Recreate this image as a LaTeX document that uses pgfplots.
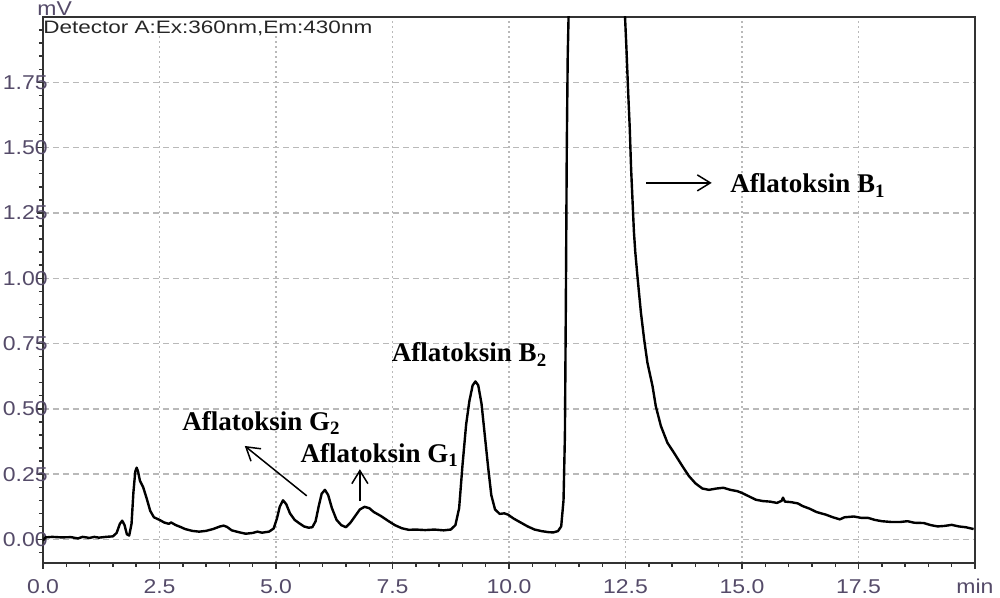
\documentclass[border=0pt]{standalone}
\usepackage{fontspec}
\setmainfont{Liberation Sans}[FakeStretch=1.15]
\newfontfamily\annfont{Liberation Serif}
\newfontfamily\detfont{Liberation Sans}[FakeStretch=1.25]
\usepackage{pgfplots}
\pgfplotsset{compat=1.18}
\usetikzlibrary{arrows.meta}
\definecolor{ticklab}{RGB}{85,75,105}
\definecolor{gridc}{RGB}{185,185,185}
\definecolor{framec}{RGB}{50,50,50}

\pgfplotstableread{
x y
0.00 -0.005
0.05 0.008
0.20 0.010
0.40 0.008
0.60 0.009
0.75 0.004
0.85 0.010
1.00 0.006
1.10 0.010
1.20 0.007
1.35 0.010
1.50 0.012
1.58 0.025
1.65 0.060
1.70 0.072
1.75 0.055
1.80 0.020
1.85 0.015
1.90 0.060
1.94 0.180
1.98 0.260
2.01 0.275
2.04 0.260
2.08 0.225
2.15 0.200
2.22 0.160
2.30 0.110
2.38 0.085
2.50 0.075
2.60 0.065
2.70 0.060
2.75 0.065
2.85 0.055
2.95 0.048
3.05 0.040
3.20 0.033
3.35 0.030
3.50 0.033
3.65 0.040
3.80 0.050
3.88 0.053
3.95 0.048
4.05 0.035
4.20 0.028
4.35 0.022
4.50 0.025
4.60 0.030
4.70 0.026
4.85 0.030
4.95 0.042
5.02 0.080
5.08 0.125
5.15 0.150
5.22 0.135
5.30 0.100
5.40 0.075
5.50 0.062
5.60 0.050
5.70 0.045
5.78 0.047
5.85 0.070
5.92 0.130
5.98 0.175
6.05 0.190
6.12 0.170
6.20 0.120
6.30 0.075
6.40 0.055
6.50 0.047
6.60 0.065
6.70 0.090
6.80 0.115
6.90 0.125
7.00 0.120
7.10 0.105
7.25 0.090
7.40 0.072
7.55 0.055
7.70 0.043
7.85 0.037
8.00 0.038
8.20 0.036
8.40 0.038
8.60 0.035
8.75 0.038
8.85 0.055
8.93 0.120
9.00 0.280
9.08 0.440
9.15 0.530
9.22 0.590
9.28 0.605
9.34 0.590
9.41 0.520
9.48 0.400
9.55 0.280
9.62 0.170
9.70 0.115
9.80 0.098
9.90 0.100
9.98 0.095
10.10 0.080
10.25 0.065
10.40 0.050
10.55 0.038
10.70 0.032
10.85 0.028
10.95 0.027
11.05 0.032
11.12 0.050
11.17 0.150
11.20 0.400
11.22 0.900
11.24 1.500
11.26 1.850
11.29 2.100
11.40 2.600
11.80 3.200
12.20 2.800
12.45 2.100
12.49 2.000
12.52 1.880
12.56 1.700
12.59 1.580
12.62 1.420
12.65 1.300
12.68 1.180
12.71 1.100
12.76 1.000
12.83 0.870
12.90 0.766
12.97 0.677
13.08 0.587
13.15 0.510
13.26 0.434
13.40 0.370
13.54 0.332
13.72 0.281
13.86 0.243
14.00 0.215
14.15 0.195
14.29 0.190
14.45 0.195
14.60 0.198
14.75 0.190
14.90 0.185
15.00 0.178
15.15 0.165
15.30 0.152
15.45 0.147
15.60 0.145
15.75 0.140
15.85 0.148
15.88 0.160
15.92 0.145
16.05 0.143
16.20 0.138
16.30 0.128
16.45 0.118
16.60 0.105
16.80 0.095
16.95 0.085
17.10 0.077
17.20 0.085
17.40 0.088
17.55 0.083
17.70 0.083
17.85 0.075
18.00 0.070
18.20 0.067
18.40 0.067
18.55 0.070
18.70 0.064
18.90 0.063
19.05 0.055
19.20 0.050
19.35 0.052
19.50 0.056
19.65 0.050
19.80 0.047
19.97 0.040
}\chrom

\begin{document}
\begin{tikzpicture}
\useasboundingbox (-21.5pt,-17.5pt) rectangle (478.5pt,281.5pt);
\begin{axis}[
  at={(0,0)}, anchor=south west,
  scale only axis, width=466pt, height=273pt,
  xmin=0, xmax=20, ymin=-0.09, ymax=2.0,
  clip mode=individual,
  axis line style={framec, line width=0.9pt},
  xtick={0,2.5,5,7.5,10,12.5,15,17.5,20},
  xticklabels={0.0,2.5,5.0,7.5,10.0,12.5,15.0,17.5,min},
  minor x tick num=4,
  ytick={0,0.25,0.5,0.75,1,1.25,1.5,1.75},
  yticklabels={0.00,0.25,0.50,0.75,1.00,1.25,1.50,1.75},
  minor ytick={-0.05,0.05,0.10,0.15,0.20,0.30,0.35,0.40,0.45,0.55,0.60,0.65,0.70,0.80,0.85,0.90,0.95,1.05,1.10,1.15,1.20,1.30,1.35,1.40,1.45,1.55,1.60,1.65,1.70,1.80,1.85,1.90,1.95},
  tick align=outside, tick pos=left,
  major tick length=3pt, minor tick length=2pt,
  every tick/.style={framec, line width=0.7pt},
  xmajorgrids, ymajorgrids,
  x grid style={gridc, dash pattern=on 1pt off 1.5pt, line width=0.7pt},
  y grid style={gridc, dash pattern=on 3pt off 2pt, line width=0.7pt},
  tick label style={font=\fontsize{10}{11}\selectfont, text=ticklab},
  yticklabel style={anchor=east, inner sep=0pt, xshift=5.5pt},
  xticklabel style={anchor=north, inner sep=0pt, yshift=-5pt},
]
\addplot[black, line width=1.2pt, line join=round] table[x=x,y=y] {\chrom};

\node[anchor=base west, inner sep=0pt, xshift=-3pt, yshift=0.5pt,
      font=\fontsize{10}{11}\selectfont, text=ticklab] at (rel axis cs:0,1) {mV};
\node[anchor=north west, inner sep=0pt, yshift=-1.8pt,
      font=\detfont\fontsize{9}{10}\selectfont, text=black!85] at (rel axis cs:0,1) {Detector A:Ex:360nm,Em:430nm};

\draw[-{Straight Barb[length=6.5pt,width=8pt]}, line width=0.75pt] (axis cs:12.95,1.365) -- (axis cs:14.35,1.365);
\node[anchor=base west, inner sep=0pt, font=\annfont\bfseries\fontsize{13.5}{16}\selectfont] at (axis cs:14.74,1.327) {Aflatoksin B\textsubscript{1}};

\node[anchor=base west, inner sep=0pt, font=\annfont\bfseries\fontsize{13.5}{16}\selectfont] at (axis cs:7.48,0.68) {Aflatoksin B\textsubscript{2}};

\node[anchor=base west, inner sep=0pt, font=\annfont\bfseries\fontsize{13.5}{16}\selectfont] at (axis cs:2.98,0.417) {Aflatoksin G\textsubscript{2}};
\draw[-{Straight Barb[length=6.5pt,width=8pt]}, line width=0.75pt] (axis cs:5.66,0.167) -- (axis cs:4.33,0.358);

\node[anchor=base west, inner sep=0pt, font=\annfont\bfseries\fontsize{13.5}{16}\selectfont] at (axis cs:5.52,0.295) {Aflatoksin G\textsubscript{1}};
\draw[-{Straight Barb[length=6.5pt,width=8pt]}, line width=0.75pt] (axis cs:6.80,0.147) -- (axis cs:6.80,0.269);
\end{axis}
\end{tikzpicture}
\end{document}
